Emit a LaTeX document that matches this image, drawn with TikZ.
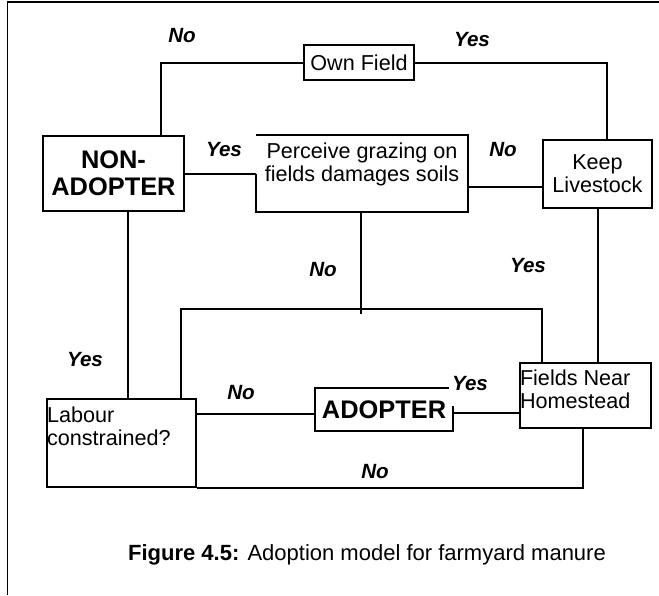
\documentclass[tikz,border=0pt]{standalone}
\usepackage{fontspec}
\setmainfont{Liberation Sans}
\usetikzlibrary{calc}

\begin{document}
\begin{tikzpicture}[x=0.5pt, y=-0.5pt,
  box/.style={draw, line width=1pt, inner sep=0pt,
              font=\fontsize{10.8}{11.5}\selectfont},
  bigbox/.style={box, font=\fontsize{12.7}{13.5}\selectfont\bfseries, align=center},
  ans/.style={font=\fontsize{10.3}{12}\selectfont\bfseries\itshape, inner sep=0pt},
  link/.style={line width=1pt},
]
\useasboundingbox (0,0) rectangle (659,595);
\draw[line width=0.75pt] (7.5,595) -- (7.5,2) -- (659,2);

% decision boxes
\node[box, minimum width=55pt, minimum height=17.5pt] (own) at (359,62.5) {Own Field};
\node[bigbox, minimum width=70.5pt, minimum height=37.5pt] (non) at (113.5,173.5) {NON-\\ADOPTER};
\node[box, draw=none] (perc) at (362,173.5)
  {\parbox[c][37.5pt][t]{105pt}{\centering\rule{0pt}{11pt}Perceive grazing on\\fields damages soils}};
\draw[link] (perc.west) -- (perc.south west) -- (perc.south east) -- (perc.north east) -- (perc.north west);
\node[box, align=center, minimum width=54.5pt, minimum height=34pt] (keep) at (597.5,174) {Keep\\Livestock};
\node[box] (fields) at (585.5,395.5)
  {\parbox[c][32.5pt][t]{65.5pt}{\raggedright\rule{0pt}{11pt}Fields Near\\Homestead}};
\node[box] (lab) at (121.5,443)
  {\parbox[c][44pt][t]{74.5pt}{\raggedright\rule{0pt}{11.5pt}Labour\\constrained?}};
\node[bigbox, draw=none, minimum width=68pt, minimum height=20.5pt] (adopt) at (384,409.5) {ADOPTER};
\draw[link] ($(adopt.north east)+(-4,0)$) -- (adopt.north west) -- (adopt.south west)
  -- (adopt.south east) -- ($(adopt.north east)+(0,18)$);

% connectors
\draw[link] (own.west) -| ($(non.north)+(47.5,0)$);
\draw[link] (own.east) -| ($(keep.north)+(9.5,0)$);
\draw[link] (non.east) -- (perc.west);
\coordinate (pk) at ($(perc.east)+(0,13.5)$);
\draw[link] (pk) -- (pk -| keep.west);
\coordinate (junct) at ($(perc.south)+(-1,97)$);
\draw[link] ($(perc.south)+(-1,0)$) -- ($(junct)+(0,5)$);
\draw[link] ($(lab.north)+(59.5,0)$) |- (junct) -| ($(fields.north)+(-43.5,0)$);
\draw[link] ($(non.south)+(14.5,0)$) -- ($(lab.north)+(6.5,0)$);
\draw[link] (keep.south) -- (keep.south |- fields.north);
\coordinate (la) at ($(adopt.west)+(0,4)$);
\draw[link] (la) -- (la -| lab.east);
\coordinate (af) at ($(adopt.east)+(0,3)$);
\draw[link] (af) -- (af -| fields.west);
\draw[link] ($(fields.south)+(-2.5,0)$) |- (lab.south east);

% answers
\node[ans] (noown)   at (182,36)  {No};
\node[ans] (yesown)  at (472,40)  {Yes};
\node[ans] (yesperc) at (224,150) {Yes};
\node[ans] (noperc)  at (503,150) {No};
\node[ans] (nomid)   at (323,270) {No};
\node[ans] (yeskeep) at (528,266) {Yes};
\node[ans] (yeslab)  at (85,360)  {Yes};
\node[ans] (nolab)   at (241,393) {No};
\node[ans] (yesfld)  at (470,384) {Yes};
\node[ans] (nofld)   at (375,472) {No};

\node[font=\fontsize{11}{12}\selectfont, inner sep=0pt, anchor=base] (caption) at (367,560)
  {\textbf{Figure 4.5:} Adoption model for farmyard manure};
\end{tikzpicture}
\end{document}
